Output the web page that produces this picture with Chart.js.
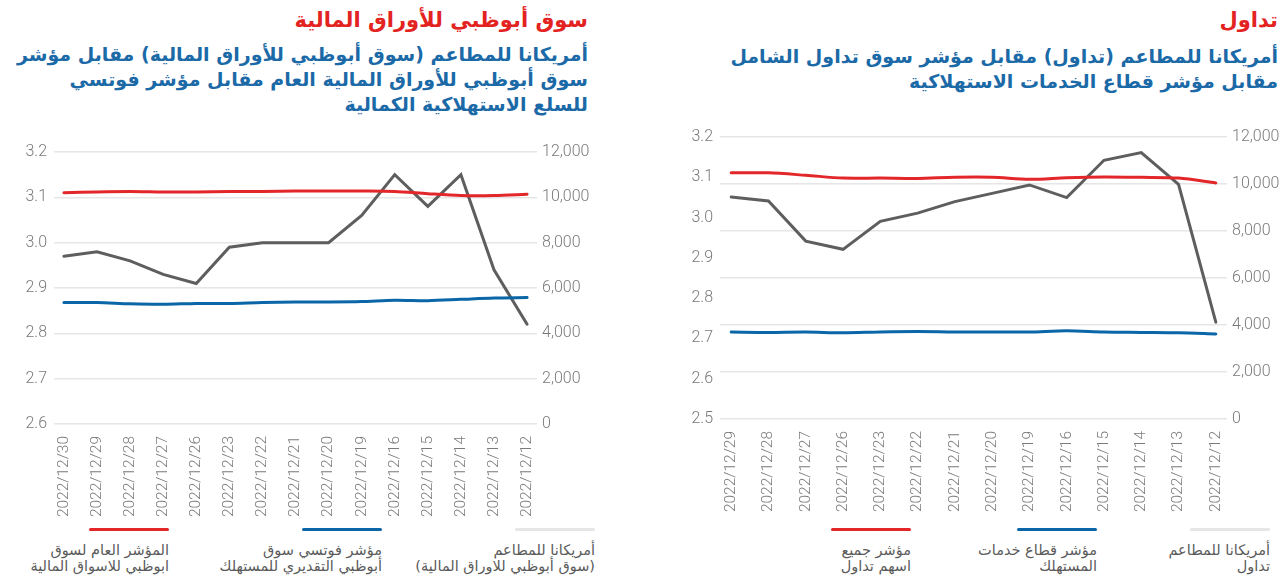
<!DOCTYPE html>
<html lang="ar">
<head>
<meta charset="utf-8">
<script src="https://cdn.jsdelivr.net/npm/chart.js@4/dist/chart.umd.min.js"></script>
<style>
  html,body{margin:0;padding:0;background:#fff;}
  body{width:1284px;height:578px;position:relative;overflow:hidden;font-family:"DejaVu Sans",sans-serif;}
  .t{position:absolute;direction:rtl;text-align:right;white-space:nowrap;}
  .red{color:#e3231f;font-weight:bold;font-size:21px;}
  .blue{color:#1b6aa7;font-weight:bold;font-size:19px;line-height:25px;}
  .cv{position:absolute;}
  .lg{position:absolute;direction:rtl;text-align:right;white-space:nowrap;font-size:14.5px;line-height:16px;color:#5a5a5a;}
  .lg .bar{position:absolute;top:0;right:0;height:3px;width:80px;border-radius:2px;}
  .lg .txt{position:absolute;top:14px;right:0;}
</style>
</head>
<body>
<div class="t red" style="right:696px;top:8px;">سوق أبوظبي للأوراق المالية</div>
<div class="t blue" style="right:696px;top:42px;">أمريكانا للمطاعم (سوق أبوظبي للأوراق المالية) مقابل مؤشر<br>سوق أبوظبي للأوراق المالية العام مقابل مؤشر فوتسي<br>للسلع الاستهلاكية الكمالية</div>
<div class="t red" style="right:6px;top:8px;">تداول</div>
<div class="t blue" style="right:6px;top:44px;">أمريكانا للمطاعم (تداول) مقابل مؤشر سوق تداول الشامل<br>مقابل مؤشر قطاع الخدمات الاستهلاكية</div>

<div class="cv" style="left:0;top:130px;width:600px;height:390px;"><canvas id="c1"></canvas></div>
<div class="cv" style="left:650px;top:115px;width:634px;height:405px;"><canvas id="c2"></canvas></div>

<div id="lg1"></div>
<div id="lg2"></div>

<script>
// ---- Left chart: Abu Dhabi Securities Exchange ----
const leftLabels = ['2022/12/30','2022/12/29','2022/12/28','2022/12/27','2022/12/26','2022/12/23','2022/12/22','2022/12/21','2022/12/20','2022/12/19','2022/12/16','2022/12/15','2022/12/14','2022/12/13','2022/12/12'];
const leftGeneral = [3.110,3.112,3.113,3.112,3.112,3.113,3.113,3.114,3.114,3.114,3.113,3.108,3.104,3.104,3.107];
const leftFtse = [2.868,2.868,2.865,2.864,2.866,2.866,2.868,2.869,2.869,2.870,2.873,2.872,2.875,2.878,2.879];
const leftAmericana = [7400,7600,7200,6600,6200,7800,8000,8000,8000,9200,11000,9600,11000,6800,4400];
const leftNames = ['المؤشر العام لسوق|ابوظبي للاسواق المالية','مؤشر فوتسي سوق|أبوظبي التقديري للمستهلك','أمريكانا للمطاعم|(سوق أبوظبي للاوراق المالية)'];

// ---- Right chart: Tadawul ----
const rightLabels = ['2022/12/29','2022/12/28','2022/12/27','2022/12/26','2022/12/23','2022/12/22','2022/12/21','2022/12/20','2022/12/19','2022/12/16','2022/12/15','2022/12/14','2022/12/13','2022/12/12'];
const rightTasi = [3.111,3.111,3.105,3.098,3.098,3.097,3.100,3.100,3.095,3.099,3.101,3.100,3.098,3.086];
const rightConsumer = [2.716,2.715,2.716,2.714,2.716,2.717,2.716,2.716,2.716,2.719,2.716,2.715,2.714,2.711];
const rightAmericana = [9450,9280,7570,7220,8410,8760,9250,9600,9960,9420,11010,11340,9990,4120];
const rightNames = ['مؤشر جميع|اسهم تداول','مؤشر قطاع خدمات|المستهلك','أمريكانا للمطاعم|تداول'];

const RED = '#e3262a', BLUE = '#0a66a6', GREY = '#5e5e5e', LEG_GREY = '#e6e6e6';
const tickFont = {family:'Roboto', size:16, weight:'300'};
const tickColor = '#7a7a7a';

function pts(arr){ return arr.map((v,i)=>({x:i,y:v})); }

function makeChart(id, labels, red, blue, grey, cfg){
  const n = labels.length;
  return new Chart(document.getElementById(id), {
    type:'line',
    data:{datasets:[
      {data:pts(red), borderColor:RED, borderWidth:3, pointRadius:0, tension:0.3, yAxisID:'y', borderCapStyle:'round'},
      {data:pts(blue), borderColor:BLUE, borderWidth:3, pointRadius:0, tension:0.3, yAxisID:'y', borderCapStyle:'round'},
      {data:pts(grey), borderColor:GREY, borderWidth:3, pointRadius:0, tension:0, yAxisID:'y1', borderCapStyle:'round'}
    ]},
    options:{
      responsive:true, maintainAspectRatio:false, animation:false,
      layout:{padding:{top:cfg.padTop,left:0,right:0,bottom:0}},
      plugins:{legend:{display:false}, tooltip:{enabled:false}},
      scales:{
        x:{type:'linear', min:-0.3, max:n-1+0.3,
           grid:{display:false}, border:{display:false},
           afterFit:s=>{s.height=cfg.xH;},
           afterBuildTicks:s=>{s.ticks = labels.map((_,i)=>({value:i}));},
           ticks:{autoSkip:false, minRotation:90, maxRotation:90, padding:4, font:{family:'Roboto',size:15.5,weight:'300'}, color:tickColor,
                  callback:v=>labels[v] ?? ''}},
        y:{position:'left', min:cfg.yMin, max:3.2,
           afterBuildTicks:s=>{const t=[];for(let v=cfg.yMin;v<=3.2001;v+=0.1){t.push({value:Math.round(v*10)/10});} s.ticks=t;},
           grid:{display:cfg.leftGrid, color:'#e6e6e6', lineWidth:1.5, drawTicks:false}, border:{display:false},
           afterFit:s=>{s.width=cfg.yW;},
           ticks:{padding:7, font:tickFont, color:tickColor, callback:v=>Number(v).toFixed(1)}},
        y1:{position:'right', min:0, max:12000,
           afterBuildTicks:s=>{const t=[];for(let v=0;v<=12000;v+=2000){t.push({value:v});} s.ticks=t;},
           grid:{display:!cfg.leftGrid, color:'#e6e6e6', lineWidth:1.5, drawTicks:false}, border:{display:false},
           afterFit:s=>{s.width=cfg.y1W;},
           ticks:{padding:5, font:tickFont, color:tickColor, callback:v=>Number(v).toLocaleString('en-US')}}
      }
    }
  });
}

makeChart('c1', leftLabels, leftGeneral, leftFtse, leftAmericana, {padTop:22, xH:96, yW:54, y1W:63, yMin:2.6, leftGrid:true});
makeChart('c2', rightLabels, rightTasi, rightConsumer, rightAmericana, {padTop:22, xH:101, yW:70, y1W:57, yMin:2.5, leftGrid:false});

function legend(id, names, rights){
  const host = document.getElementById(id);
  const cols = [RED, BLUE, LEG_GREY];
  names.forEach((nm,i)=>{
    const d = document.createElement('div');
    d.className='lg';
    d.style.right = (1284 - rights[i]) + 'px';
    d.style.top = '528px';
    const b = document.createElement('div'); b.className='bar'; b.style.background = cols[i];
    const t = document.createElement('div'); t.className='txt';
    const parts = nm.split('|');
    t.appendChild(document.createTextNode(parts[0]));
    t.appendChild(document.createElement('br'));
    t.appendChild(document.createTextNode(parts[1]));
    d.appendChild(b); d.appendChild(t);
    host.appendChild(d);
  });
}
legend('lg1', leftNames, [169, 382, 595]);
legend('lg2', rightNames, [911, 1097, 1270]);
</script>
</body>
</html>
